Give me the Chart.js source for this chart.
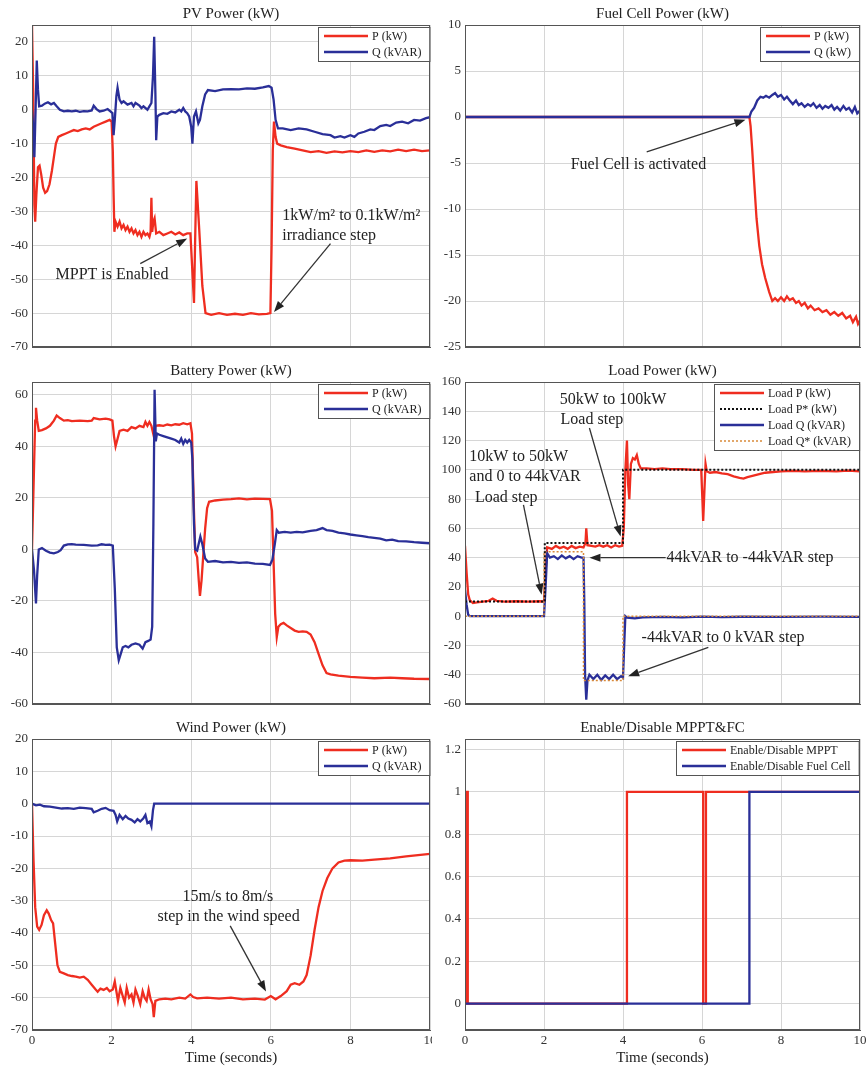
<!DOCTYPE html>
<html>
<head>
<meta charset="utf-8">
<script src="https://cdn.jsdelivr.net/npm/chart.js@4.4.1/dist/chart.umd.min.js"></script>
<style>
  body { margin: 0; background: #fff; }
  canvas { position: absolute; }
</style>
</head>
<body>
<canvas id="pv" width="432" height="350" style="left:0;top:0"></canvas>
<canvas id="fc" width="435" height="350" style="left:432px;top:0"></canvas>
<canvas id="bat" width="432" height="352" style="left:0;top:355px"></canvas>
<canvas id="load" width="435" height="352" style="left:432px;top:355px"></canvas>
<canvas id="wind" width="432" height="357" style="left:0;top:710px"></canvas>
<canvas id="en" width="435" height="357" style="left:432px;top:710px"></canvas>
<script>
// valeurs : [temps (s), valeur]
const pvP = [[0,25],[0.03,5],[0.06,-28],[0.08,-33],[0.11,-25],[0.15,-17],[0.19,-16.5],[0.23,-19],[0.28,-23],[0.33,-24.5],[0.38,-24],[0.44,-22],[0.5,-18],[0.55,-14],[0.6,-10],[0.66,-8],[0.75,-7.5],[0.85,-7],[0.95,-6.5],[1.05,-6],[1.15,-6.3],[1.25,-5.8],[1.35,-5.5],[1.45,-5.8],[1.55,-5],[1.65,-4.5],[1.75,-4],[1.85,-3.5],[1.95,-3],[2.0,-3.5],[2.03,-12],[2.05,-25],[2.07,-36],[2.1,-33],[2.15,-34.5],[2.2,-33],[2.25,-35],[2.3,-34],[2.35,-35.5],[2.4,-34.5],[2.45,-36],[2.5,-35],[2.55,-36.5],[2.6,-35.5],[2.65,-37],[2.7,-36],[2.75,-37.5],[2.8,-36],[2.85,-37],[2.9,-36.5],[2.95,-37.5],[2.98,-36],[3.0,-26],[3.02,-36],[3.05,-33],[3.08,-32],[3.12,-36.5],[3.2,-36],[3.3,-37],[3.4,-36.5],[3.5,-36],[3.6,-36.8],[3.7,-36.2],[3.8,-37],[3.9,-36.5],[3.98,-36.5],[4.04,-50],[4.07,-57],[4.1,-38],[4.13,-21],[4.2,-35],[4.28,-52],[4.36,-60],[4.5,-60.5],[4.7,-60],[4.9,-60.5],[5.1,-60.2],[5.3,-60.5],[5.5,-60],[5.7,-60.4],[5.9,-60.2],[5.99,-60],[6.02,-40],[6.05,-12],[6.08,-3.5],[6.12,-8],[6.16,-10],[6.25,-10.5],[6.4,-11],[6.6,-11.5],[6.8,-12],[7.0,-12.5],[7.2,-12.2],[7.4,-12.7],[7.6,-12.3],[7.8,-12.6],[8.0,-12.2],[8.2,-12.5],[8.4,-12],[8.6,-12.4],[8.8,-12],[9.0,-12.3],[9.2,-11.8],[9.4,-12.2],[9.6,-11.8],[9.8,-12.2],[10,-12]];
const pvQ = [[0,0],[0.03,-5],[0.06,-14],[0.09,0],[0.12,14.5],[0.15,6],[0.18,1],[0.25,1.2],[0.32,1.8],[0.4,2.2],[0.48,1.6],[0.55,2],[0.62,1],[0.7,0],[0.8,-0.5],[0.9,-0.3],[1.0,-0.5],[1.1,-0.3],[1.2,-0.6],[1.3,-0.4],[1.4,-0.5],[1.5,-0.2],[1.55,1.2],[1.62,0.2],[1.7,-0.5],[1.8,-0.3],[1.9,0.2],[1.97,-0.5],[2.02,-1],[2.05,-7.5],[2.08,-3],[2.12,4],[2.15,6.5],[2.2,3],[2.25,2],[2.3,2.5],[2.4,1.5],[2.5,2],[2.55,1],[2.6,2],[2.7,1.2],[2.75,0.5],[2.8,1],[2.9,0],[2.95,1],[3.0,2],[3.04,10],[3.07,21.5],[3.1,5],[3.12,-9],[3.15,-2],[3.2,-1.5],[3.3,-1],[3.4,-1.2],[3.5,-0.5],[3.6,-0.8],[3.7,0],[3.75,-0.5],[3.8,0.5],[3.85,-0.5],[3.9,-1],[3.95,-2],[4.0,-5],[4.03,-10],[4.07,-2],[4.12,-0.5],[4.18,-4],[4.22,-3],[4.28,1],[4.35,4.5],[4.42,5.8],[4.6,5.5],[4.8,6],[5.0,6.1],[5.2,6],[5.4,6.3],[5.6,6.2],[5.8,6.6],[5.95,7],[6.02,6.5],[6.07,3],[6.12,-3],[6.18,-5.5],[6.3,-5.5],[6.5,-6],[6.7,-5.5],[6.9,-5.8],[7.1,-6.5],[7.3,-7.2],[7.5,-7.5],[7.6,-8.2],[7.75,-7.8],[7.85,-8.2],[8.0,-7.5],[8.1,-8],[8.2,-7],[8.35,-6.5],[8.5,-5.8],[8.6,-6],[8.75,-4.8],[8.9,-4.5],[9.0,-4.8],[9.15,-3.8],[9.3,-3.5],[9.45,-4],[9.6,-3],[9.75,-3.2],[9.9,-2.5],[10,-2.2]];

const fcP = [[0,0],[7.2,0],[7.23,-1],[7.27,-3.5],[7.32,-7],[7.38,-11],[7.45,-14],[7.52,-16],[7.6,-17.5],[7.7,-19],[7.78,-20],[7.85,-19.7],[7.92,-20],[8.0,-19.6],[8.08,-20],[8.15,-19.5],[8.22,-19.9],[8.3,-19.7],[8.38,-20.2],[8.45,-20],[8.52,-20.5],[8.6,-20.2],[8.68,-20.8],[8.75,-20.5],[8.85,-21],[8.95,-20.8],[9.05,-21.2],[9.15,-21],[9.25,-21.5],[9.35,-21.2],[9.45,-21.6],[9.55,-21.3],[9.65,-21.9],[9.75,-21.6],[9.82,-22.3],[9.9,-21.7],[9.95,-22.5],[10,-22.1]];
const fcQ = [[0,0],[7.2,0],[7.25,0.6],[7.32,1],[7.4,1.8],[7.48,2.2],[7.55,2.1],[7.62,2.3],[7.7,2.1],[7.78,2.4],[7.85,2.6],[7.92,2.2],[8.0,2.4],[8.08,1.9],[8.15,2.2],[8.22,1.8],[8.3,1.4],[8.38,1.8],[8.45,1.3],[8.52,1.5],[8.6,1.1],[8.68,1.4],[8.75,1.2],[8.82,1.5],[8.9,1.0],[8.98,1.3],[9.05,0.9],[9.12,1.2],[9.2,1.0],[9.28,1.3],[9.35,0.8],[9.42,1.1],[9.5,0.7],[9.58,1.2],[9.65,0.8],[9.72,1.0],[9.8,0.5],[9.87,1.1],[9.93,0.4],[10,0.7]];

const batP = [[0,0],[0.04,25],[0.08,50],[0.1,55],[0.13,50],[0.17,46],[0.25,46.3],[0.35,47],[0.45,48],[0.55,50],[0.62,52],[0.7,51],[0.8,50],[0.9,50.2],[1.0,49.8],[1.2,50],[1.4,49.8],[1.5,50],[1.55,51],[1.7,50.5],[1.85,50.8],[1.95,50.5],[2.02,50],[2.06,44],[2.1,40],[2.15,43],[2.2,46],[2.3,46.5],[2.4,46],[2.5,47.5],[2.6,47],[2.7,48],[2.8,47.5],[2.85,49.5],[2.9,48],[2.95,49.5],[3.0,48],[3.03,46],[3.06,44],[3.1,48],[3.2,48.2],[3.3,48],[3.4,48.5],[3.5,48.2],[3.6,48.6],[3.7,48.4],[3.8,49],[3.9,48.6],[3.98,49],[4.02,45],[4.06,20],[4.1,-1],[4.15,-3],[4.19,-12],[4.22,-18],[4.26,-12],[4.3,-3],[4.35,8],[4.4,16],[4.45,18.5],[4.6,19],[4.8,19.3],[5.0,19.5],[5.2,19.8],[5.4,19.4],[5.6,19.7],[5.8,19.6],[5.98,19.5],[6.03,15],[6.07,-5],[6.11,-25],[6.15,-34],[6.19,-30],[6.25,-29],[6.32,-28.5],[6.4,-29.5],[6.5,-30.5],[6.6,-31.5],[6.7,-32],[6.8,-31.8],[6.9,-32],[7.0,-33],[7.1,-36],[7.2,-40.5],[7.3,-45],[7.4,-48],[7.5,-48.5],[7.7,-49],[8.0,-49.5],[8.3,-49.8],[8.6,-50],[9.0,-49.8],[9.3,-50],[9.6,-50.2],[10,-50.3]];
const batQ = [[0,0],[0.05,-8],[0.1,-21],[0.13,-10],[0.17,0],[0.25,0.5],[0.35,-0.5],[0.45,-1.2],[0.55,-1.5],[0.65,-1],[0.72,-0.3],[0.8,1.5],[0.9,2],[1.0,2.1],[1.1,1.9],[1.3,1.8],[1.5,1.5],[1.65,1.6],[1.75,2],[1.85,1.8],[1.95,1.9],[2.03,1.5],[2.08,-15],[2.13,-38],[2.18,-43],[2.22,-41],[2.28,-38],[2.35,-37.5],[2.42,-38],[2.5,-37],[2.6,-36.5],[2.7,-37],[2.78,-38.5],[2.85,-36],[2.92,-35.5],[2.98,-35],[3.02,-30],[3.05,10],[3.08,62],[3.11,42],[3.14,45],[3.2,44.5],[3.3,44],[3.4,43.5],[3.5,43],[3.6,42.5],[3.7,41.5],[3.75,43],[3.8,41],[3.85,42.5],[3.9,41.5],[3.95,42.5],[4.0,41.5],[4.03,35],[4.07,10],[4.1,0],[4.15,-0.5],[4.2,3],[4.23,5],[4.28,2],[4.35,-3.5],[4.42,-4.8],[4.6,-4.5],[4.8,-5],[5.0,-4.8],[5.2,-5.2],[5.4,-5],[5.6,-5.5],[5.8,-5.6],[5.98,-6],[6.04,-4],[6.1,2],[6.15,7.5],[6.2,6.5],[6.35,6.8],[6.5,6.5],[6.65,6.8],[6.8,6.6],[7.0,7.2],[7.15,7.5],[7.3,8.3],[7.4,7.5],[7.55,7.2],[7.7,6.5],[7.85,6.2],[8.0,5.8],[8.15,5.5],[8.3,5.2],[8.45,4.8],[8.6,4.5],[8.75,4.2],[8.9,3.5],[9.05,3.8],[9.2,3.2],[9.4,3.1],[9.6,2.8],[9.8,2.6],[10,2.4]];

const loadP = [[0,48],[0.04,30],[0.08,15],[0.12,11],[0.2,9],[0.3,9.5],[0.45,10],[0.6,10.5],[0.7,12],[0.8,10.5],[1.0,10],[1.3,10.2],[1.6,10],[1.9,10.2],[2.0,10],[2.04,30],[2.08,47],[2.2,46],[2.3,48],[2.4,46.5],[2.5,47.5],[2.6,46],[2.7,48],[2.8,46.5],[2.9,47.5],[3.0,47],[3.05,50],[3.07,60],[3.1,48.5],[3.2,48],[3.3,47.5],[3.4,48.5],[3.5,47.5],[3.6,48.5],[3.7,47],[3.8,48.5],[3.9,47.5],[3.98,48],[4.02,60],[4.06,100],[4.1,120],[4.13,90],[4.16,80],[4.2,104],[4.25,108],[4.3,107],[4.35,110],[4.4,104],[4.45,101],[4.6,101],[4.8,100.5],[5.0,101],[5.2,100.5],[5.5,100.5],[5.8,100],[5.98,100],[6.01,80],[6.03,65],[6.06,85],[6.09,104],[6.12,99],[6.2,98],[6.35,98.5],[6.5,97.5],[6.65,97],[6.8,95.5],[6.95,94.5],[7.05,94],[7.15,95],[7.3,96],[7.45,97],[7.6,98],[7.8,98.5],[8.0,99],[8.3,99.3],[8.6,99],[9.0,99.3],[9.4,99],[9.7,99.4],[10,99]];
const loadPref = [[0,10],[2.02,10],[2.02,50],[4.0,50],[4.0,100],[10,100]];
const loadQ = [[0,18],[0.04,8],[0.08,1],[0.12,0],[2.0,0],[2.04,20],[2.08,43],[2.15,40],[2.25,41],[2.35,39],[2.45,41.5],[2.55,39.5],[2.65,41],[2.75,39],[2.85,41],[2.95,40],[3.0,40],[3.02,10],[3.04,-40],[3.07,-57],[3.1,-44],[3.15,-40],[3.25,-43],[3.35,-40],[3.45,-43.5],[3.55,-40.5],[3.65,-43],[3.75,-40],[3.85,-43],[3.95,-41],[4.0,-42],[4.03,-20],[4.06,0],[4.1,-1],[4.3,-1.5],[4.5,-0.8],[5,-0.5],[5.5,-0.8],[6,-0.3],[6.5,-0.6],[7,-0.4],[8,-0.5],[9,-0.3],[10,-0.5]];
const loadQref = [[0,0],[2.0,0],[2.0,44],[3.0,44],[3.0,-44],[4.0,-44],[4.0,0],[10,0]];

const windP = [[0,0],[0.04,-18],[0.08,-32],[0.13,-38],[0.18,-39],[0.24,-37.5],[0.3,-34.5],[0.37,-33],[0.42,-34],[0.48,-36],[0.53,-37],[0.58,-43],[0.64,-50],[0.7,-52],[0.8,-52.5],[0.9,-53],[1.0,-53.3],[1.1,-53.5],[1.2,-53.8],[1.3,-53.5],[1.4,-54.5],[1.5,-56],[1.6,-57.5],[1.65,-58.2],[1.72,-57.2],[1.8,-57.6],[1.88,-57],[1.95,-58],[2.03,-57.5],[2.08,-55],[2.12,-58],[2.16,-61],[2.22,-57],[2.28,-59.5],[2.33,-61.5],[2.38,-57],[2.44,-60],[2.5,-59],[2.55,-61.5],[2.6,-57.5],[2.66,-59.5],[2.72,-62],[2.78,-58],[2.83,-60],[2.88,-61],[2.93,-57.5],[2.98,-60.5],[3.03,-62],[3.06,-66],[3.1,-61],[3.2,-60.5],[3.35,-60.3],[3.5,-60.5],[3.7,-60],[3.85,-60.3],[3.98,-59],[4.05,-59.8],[4.15,-60.2],[4.4,-60],[4.7,-60.3],[5.0,-60],[5.3,-60.5],[5.6,-60.3],[5.85,-60.6],[6.0,-59.5],[6.12,-60.5],[6.25,-59.5],[6.4,-58],[6.5,-56],[6.6,-55.5],[6.72,-56],[6.82,-55],[6.9,-53],[7.0,-47],[7.1,-39],[7.2,-32],[7.3,-27],[7.42,-23],[7.55,-20],[7.7,-18.2],[7.85,-17.6],[8.0,-17.5],[8.3,-17.6],[8.6,-17.3],[9.0,-16.9],[9.4,-16.3],[9.7,-15.9],[10,-15.5]];
const windQ = [[0,0],[0.1,-0.5],[0.2,-0.3],[0.3,-0.8],[0.45,-0.9],[0.6,-1.2],[0.75,-1.5],[0.9,-1.4],[1.05,-1.6],[1.2,-1.2],[1.35,-1.4],[1.5,-1.6],[1.55,-2.7],[1.65,-2.2],[1.75,-1.6],[1.85,-1.3],[1.95,-2],[2.05,-2.2],[2.1,-3.5],[2.14,-5.5],[2.2,-3.5],[2.28,-4.8],[2.35,-3.8],[2.42,-4.6],[2.5,-5],[2.58,-5.8],[2.65,-4.8],[2.72,-5.5],[2.8,-4.5],[2.85,-3.5],[2.9,-6],[2.96,-5.5],[3.0,-7],[3.04,-2],[3.07,0],[10,0]];

const enMppt = [[0,0],[0.04,0],[0.04,1],[0.07,1],[0.07,0],[4.1,0],[4.1,1],[6.03,1],[6.03,0],[6.1,0],[6.1,1],[10,1]];
const enFc = [[0,0],[7.2,0],[7.2,1],[10,1]];

// graduations
const xTicks = [0, 2, 4, 6, 8, 10];
const pvTicks = [-70, -60, -50, -40, -30, -20, -10, 0, 10, 20];
const fcTicks = [-25, -20, -15, -10, -5, 0, 5, 10];
const batTicks = [-60, -40, -20, 0, 20, 40, 60];
const loadTicks = [-60, -40, -20, 0, 20, 40, 60, 80, 100, 120, 140, 160];
const windTicks = [-70, -60, -50, -40, -30, -20, -10, 0, 10, 20];
const enTicks = [0, 0.2, 0.4, 0.6, 0.8, 1, 1.2];

const RED = '#ef2d20';
const BLUE = '#2a2f98';
const GRID = '#d6d6d6';
const SERIF = '"Liberation Serif", "Times New Roman", serif';

Chart.defaults.font.family = SERIF;
Chart.defaults.color = '#222';

// cadre complet autour de la zone de tracé
const frame = {
  id: 'frame',
  afterDatasetsDraw(chart) {
    const { ctx, chartArea: a } = chart;
    ctx.save();
    ctx.strokeStyle = '#555';
    ctx.lineWidth = 1;
    ctx.strokeRect(a.left + 0.5, a.top + 0.5, a.right - a.left - 1, a.bottom - a.top - 1);
    ctx.restore();
  }
};

// légende façon matlab, dans le coin haut droit
const legendBox = {
  id: 'legendBox',
  afterDatasetsDraw(chart) {
    const { ctx, chartArea: a } = chart;
    const sets = chart.data.datasets;
    ctx.save();
    ctx.font = '12px ' + SERIF;
    const tw = Math.max(...sets.map(d => ctx.measureText(d.label).width));
    const lineLen = 44;
    const w = 6 + lineLen + 4 + tw + 8;
    const h = sets.length * 16 + 2;
    const x0 = Math.round(a.right - 1 - w), y0 = a.top + 2;
    ctx.fillStyle = '#fff';
    ctx.fillRect(x0, y0, w, h);
    ctx.strokeStyle = '#555';
    ctx.lineWidth = 1;
    ctx.strokeRect(x0 + 0.5, y0 + 0.5, w, h);
    sets.forEach((d, i) => {
      const cy = y0 + 9 + i * 16;
      ctx.strokeStyle = d.borderColor;
      ctx.lineWidth = d.borderWidth;
      ctx.setLineDash(d.borderDash || []);
      ctx.beginPath();
      ctx.moveTo(x0 + 6, cy);
      ctx.lineTo(x0 + 6 + lineLen, cy);
      ctx.stroke();
      ctx.setLineDash([]);
      ctx.fillStyle = '#222';
      ctx.textBaseline = 'middle';
      ctx.fillText(d.label, x0 + 6 + lineLen + 4, cy + 1);
    });
    ctx.restore();
  }
};

// textes et flèches, en coordonnées des données
const notes = {
  id: 'notes',
  afterDatasetsDraw(chart, args, opts) {
    const { ctx, scales: { x, y } } = chart;
    ctx.save();
    ctx.font = '16px ' + SERIF;
    ctx.fillStyle = '#222';
    ctx.textBaseline = 'middle';
    (opts.texts || []).forEach(t => {
      ctx.textAlign = t.align || 'center';
      ctx.fillText(t.text, x.getPixelForValue(t.x), y.getPixelForValue(t.y));
    });
    (opts.arrows || []).forEach(ar => {
      const x1 = x.getPixelForValue(ar.from[0]), y1 = y.getPixelForValue(ar.from[1]);
      const x2 = x.getPixelForValue(ar.to[0]), y2 = y.getPixelForValue(ar.to[1]);
      const ang = Math.atan2(y2 - y1, x2 - x1);
      const hl = 11, hw = 4;
      ctx.strokeStyle = '#333';
      ctx.lineWidth = 1.3;
      ctx.beginPath();
      ctx.moveTo(x1, y1);
      ctx.lineTo(x2 - hl * Math.cos(ang), y2 - hl * Math.sin(ang));
      ctx.stroke();
      ctx.fillStyle = '#222';
      ctx.beginPath();
      ctx.moveTo(x2, y2);
      ctx.lineTo(x2 - hl * Math.cos(ang) + hw * Math.sin(ang), y2 - hl * Math.sin(ang) - hw * Math.cos(ang));
      ctx.lineTo(x2 - hl * Math.cos(ang) - hw * Math.sin(ang), y2 - hl * Math.sin(ang) + hw * Math.cos(ang));
      ctx.closePath();
      ctx.fill();
    });
    ctx.restore();
  }
};

function panel(id, o) {
  new Chart(document.getElementById(id), {
    type: 'line',
    data: {
      datasets: o.series.map(s => ({
        label: s.label,
        data: s.pts.map(p => ({ x: p[0], y: p[1] })),
        borderColor: s.color,
        borderWidth: s.width || 2.3,
        borderDash: s.dash || [],
        order: s.order,
        pointRadius: 0,
        tension: 0
      }))
    },
    options: {
      responsive: false,
      animation: false,
      events: [],
      layout: { padding: { left: 0, right: o.padRight, top: 0, bottom: 0 } },
      plugins: {
        legend: { display: false },
        tooltip: { enabled: false },
        title: {
          display: true, text: o.title, fullSize: false,
          font: { size: 15, weight: 'normal' }, color: '#222',
          padding: { top: o.titleTop, bottom: 2 }
        },
        notes: { texts: o.texts || [], arrows: o.arrows || [] }
      },
      scales: {
        x: {
          type: 'linear', min: xTicks[0], max: xTicks[xTicks.length - 1],
          ticks: { display: o.xLabels, padding: 3, maxRotation: 0, font: { size: 13 }, color: '#333' },
          afterBuildTicks: s => { s.ticks = xTicks.map(v => ({ value: v })); },
          grid: { color: GRID, drawTicks: false },
          border: { color: '#555' },
          title: { display: o.xLabels, text: 'Time (seconds)', font: { size: 15 }, padding: 0, color: '#222' },
          afterFit: s => { s.height = o.xHeight; s.paddingLeft = 0; s.paddingRight = 0; }
        },
        y: {
          min: o.ymin, max: o.ymax,
          ticks: { padding: 4, font: { size: 13 }, color: '#333',
                   callback: v => String(+v.toFixed(3)) },
          afterBuildTicks: s => { s.ticks = o.yTicks.map(v => ({ value: v })); },
          grid: { color: GRID, drawTicks: false },
          border: { color: '#555' },
          afterFit: s => { s.width = o.yWidth; s.paddingTop = 0; s.paddingBottom = 0; }
        }
      }
    },
    plugins: [frame, legendBox, notes]
  });
}

panel('pv', {
  title: 'PV Power (kW)', ymin: -70, ymax: 25, yTicks: pvTicks,
  yWidth: 32, padRight: 2, titleTop: 5, xHeight: 3, xLabels: false,
  series: [
    { label: 'P (kW)', pts: pvP, color: RED, order: 2 },
    { label: 'Q (kVAR)', pts: pvQ, color: BLUE, order: 1 }
  ],
  texts: [
    { text: 'MPPT is Enabled', x: 2.01, y: -48.8 },
    { text: '1kW/m² to 0.1kW/m²', x: 6.29, y: -31.4, align: 'left' },
    { text: 'irradiance step', x: 6.29, y: -37.2, align: 'left' }
  ],
  arrows: [
    { from: [2.72, -45.4], to: [3.9, -38] },
    { from: [7.5, -39.5], to: [6.08, -59.7] }
  ]
});

panel('fc', {
  title: 'Fuel Cell Power (kW)', ymin: -25, ymax: 10, yTicks: fcTicks,
  yWidth: 33, padRight: 7, titleTop: 5, xHeight: 3, xLabels: false,
  series: [
    { label: 'P (kW)', pts: fcP, color: RED, order: 2 },
    { label: 'Q (kW)', pts: fcQ, color: BLUE, order: 1 }
  ],
  texts: [{ text: 'Fuel Cell is activated', x: 4.39, y: -5.2 }],
  arrows: [{ from: [4.6, -3.8], to: [7.1, -0.3] }]
});

panel('bat', {
  title: 'Battery Power (kW)', ymin: -60, ymax: 65, yTicks: batTicks,
  yWidth: 32, padRight: 2, titleTop: 7, xHeight: 3, xLabels: false,
  series: [
    { label: 'P (kW)', pts: batP, color: RED, order: 2 },
    { label: 'Q (kVAR)', pts: batQ, color: BLUE, order: 1 }
  ]
});

panel('load', {
  title: 'Load Power (kW)', ymin: -60, ymax: 160, yTicks: loadTicks,
  yWidth: 33, padRight: 7, titleTop: 7, xHeight: 3, xLabels: false,
  series: [
    { label: 'Load P (kW)', pts: loadP, color: RED, order: 3 },
    { label: 'Load P* (kW)', pts: loadPref, color: '#111', width: 2, dash: [2, 2], order: 0 },
    { label: 'Load Q (kVAR)', pts: loadQ, color: BLUE, order: 2 },
    { label: 'Load Q* (kVAR)', pts: loadQref, color: '#d98a3a', width: 1.5, dash: [2, 2], order: 1 }
  ],
  texts: [
    { text: '50kW to 100kW', x: 2.4, y: 148, align: 'left' },
    { text: 'Load step', x: 2.42, y: 134.3, align: 'left' },
    { text: '10kW to 50kW', x: 0.11, y: 109, align: 'left' },
    { text: 'and 0 to 44kVAR', x: 0.11, y: 95.5, align: 'left' },
    { text: 'Load step', x: 0.25, y: 81, align: 'left' },
    { text: '44kVAR to -44kVAR step', x: 5.1, y: 40, align: 'left' },
    { text: '-44kVAR to 0 kVAR step', x: 4.47, y: -14.5, align: 'left' }
  ],
  arrows: [
    { from: [3.15, 128.6], to: [3.94, 54.5] },
    { from: [1.48, 76], to: [1.94, 14.7] },
    { from: [5.08, 40], to: [3.15, 40] },
    { from: [6.16, -21.3], to: [4.13, -41] }
  ]
});

panel('wind', {
  title: 'Wind Power (kW)', ymin: -70, ymax: 20, yTicks: windTicks,
  yWidth: 32, padRight: 2, titleTop: 9, xHeight: 37, xLabels: true,
  series: [
    { label: 'P (kW)', pts: windP, color: RED, order: 2 },
    { label: 'Q (kVAR)', pts: windQ, color: BLUE, order: 1 }
  ],
  texts: [
    { text: '15m/s to 8m/s', x: 4.92, y: -28.7 },
    { text: 'step in the wind speed', x: 4.94, y: -34.9 }
  ],
  arrows: [{ from: [4.98, -37.8], to: [5.88, -58.1] }]
});

panel('en', {
  title: 'Enable/Disable MPPT&FC', ymin: -0.125, ymax: 1.25, yTicks: enTicks,
  yWidth: 33, padRight: 7, titleTop: 9, xHeight: 37, xLabels: true,
  series: [
    { label: 'Enable/Disable MPPT', pts: enMppt, color: RED, order: 2 },
    { label: 'Enable/Disable Fuel Cell', pts: enFc, color: BLUE, order: 1 }
  ]
});
</script>
</body>
</html>
